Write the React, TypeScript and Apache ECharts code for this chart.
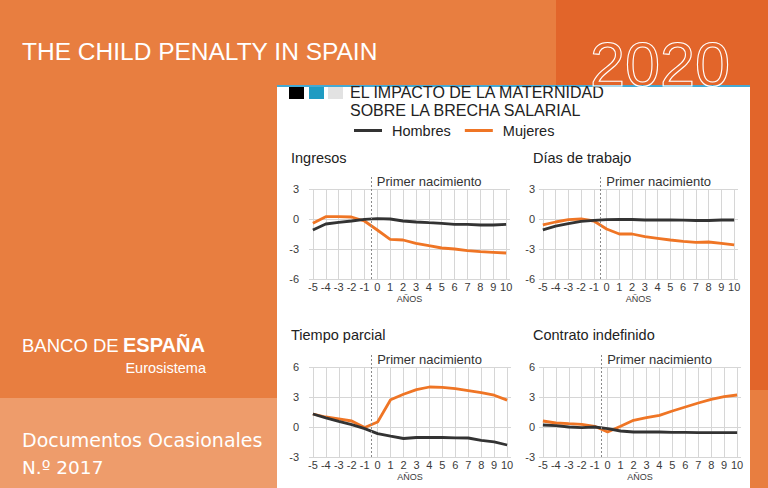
import React, { useEffect, useRef } from 'react';
import * as echarts from 'echarts';

// ---------- data ----------
const YEARS = [-5, -4, -3, -2, -1, 0, 1, 2, 3, 4, 5, 6, 7, 8, 9, 10];
const BIRTH = -0.5;

const INGRESOS_H = [-1.1, -0.5, -0.33, -0.2, -0.03, 0.03, 0, -0.2, -0.3, -0.37, -0.43, -0.53, -0.53, -0.6, -0.6, -0.53];
const INGRESOS_M = [-0.43, 0.23, 0.23, 0.2, -0.2, -1.1, -2.03, -2.1, -2.43, -2.67, -2.9, -3.0, -3.17, -3.27, -3.33, -3.4];

const DIAS_H = [-1.08, -0.71, -0.47, -0.24, -0.14, -0.07, -0.05, -0.05, -0.1, -0.1, -0.1, -0.12, -0.15, -0.15, -0.1, -0.1];
const DIAS_M = [-0.58, -0.3, -0.07, 0, -0.2, -1.0, -1.5, -1.5, -1.76, -1.93, -2.1, -2.24, -2.34, -2.3, -2.44, -2.58];

const PARCIAL_H = [1.3, 0.92, 0.56, 0.23, -0.16, -0.66, -0.92, -1.15, -1.05, -1.05, -1.05, -1.08, -1.1, -1.34, -1.48, -1.8];
const PARCIAL_M = [1.3, 1.0, 0.82, 0.6, -0.05, 0.5, 2.72, 3.28, 3.74, 4.0, 3.97, 3.84, 3.64, 3.44, 3.18, 2.69];

const CONTRATO_H = [0.2, 0.13, 0, -0.07, 0, -0.17, -0.4, -0.5, -0.5, -0.5, -0.53, -0.53, -0.57, -0.57, -0.57, -0.57];
const CONTRATO_M = [0.6, 0.4, 0.33, 0.27, 0.07, -0.5, 0.07, 0.67, 0.93, 1.17, 1.6, 2.0, 2.4, 2.77, 3.03, 3.2];

const Y_RANGE_LOW = [-6, 3];
const Y_RANGE_HIGH = [-3, 6];

const PANEL_TITLES = ['Ingresos', 'Días de trabajo', 'Tiempo parcial', 'Contrato indefinido'];
const SERIES_NAMES = ['Hombres', 'Mujeres'];
const BIRTH_LABEL = 'Primer nacimiento';
const X_NAME = 'AÑOS';

// ---------- styles / layout ----------
const FONT = '"Liberation Sans", Arial, Helvetica, sans-serif';
const ORANGE = '#EF7525';
const DARK = '#333333';
const GRID_COLOR = '#d6d6d6';
const TEXT = '#3a3a3a';

const PANELS = [
  { title: PANEL_TITLES[0], h: INGRESOS_H, m: INGRESOS_M, range: Y_RANGE_LOW, left: 309, width: 201, top: 189, tx: 291, ty: 150, ym: 10 },
  { title: PANEL_TITLES[1], h: DIAS_H, m: DIAS_M, range: Y_RANGE_LOW, left: 539, width: 199, top: 189, tx: 533, ty: 150, ym: 4 },
  { title: PANEL_TITLES[2], h: PARCIAL_H, m: PARCIAL_M, range: Y_RANGE_HIGH, left: 309, width: 202, top: 367, tx: 291, ty: 327, ym: 10 },
  { title: PANEL_TITLES[3], h: CONTRATO_H, m: CONTRATO_M, range: Y_RANGE_HIGH, left: 539, width: 202, top: 367, tx: 533, ty: 327, ym: 4 },
];

function buildOption(): any {
  const grid: any[] = [];
  const xAxis: any[] = [];
  const yAxis: any[] = [];
  const series: any[] = [];
  const title: any[] = [];

  PANELS.forEach((p, i) => {
    const ga = 2 * i;
    const gb = 2 * i + 1;
    grid.push({ left: p.left, top: p.top, width: p.width, height: 90 });
    grid.push({ left: p.left, top: p.top - 13, width: p.width, height: 103 });

    title.push({
      text: p.title,
      left: p.tx,
      top: p.ty,
      padding: 0,
      textStyle: { fontFamily: FONT, fontSize: 14.5, fontWeight: 'normal', color: '#222' },
    });

    xAxis.push({
      gridIndex: ga,
      type: 'value',
      min: -5.3,
      max: 10.3,
      axisLine: { show: false },
      axisTick: { show: false, customValues: YEARS },
      axisLabel: { customValues: YEARS, fontFamily: FONT, fontSize: 11, color: TEXT, margin: 2 },
      splitLine: { show: true, lineStyle: { color: GRID_COLOR, width: 1 } },
      name: X_NAME,
      nameLocation: 'middle',
      nameGap: 15,
      nameTextStyle: { fontFamily: FONT, fontSize: 9, color: TEXT },
    });
    xAxis.push({ gridIndex: gb, type: 'value', min: -5.3, max: 10.3, show: false });

    yAxis.push({
      gridIndex: ga,
      type: 'value',
      min: p.range[0],
      max: p.range[1],
      interval: 3,
      axisLine: { show: false },
      axisTick: { show: false },
      axisLabel: { fontFamily: FONT, fontSize: 11, color: TEXT, margin: p.ym },
      splitLine: { show: true, lineStyle: { color: GRID_COLOR, width: 1 } },
    });
    yAxis.push({ gridIndex: gb, type: 'value', min: 0, max: 1, show: false });

    series.push({
      type: 'line',
      name: 'birth' + i,
      xAxisIndex: gb,
      yAxisIndex: gb,
      data: [],
      z: 2,
      markLine: {
        silent: true,
        symbol: ['none', 'none'],
        lineStyle: { type: [2, 2], color: '#8a8a8a', width: 1 },
        label: {
          show: true,
          position: 'end',
          formatter: BIRTH_LABEL,
          align: 'left',
          verticalAlign: 'middle',
          padding: [0, 0, 0, 6],
          distance: -5,
          fontFamily: FONT,
          fontSize: 13,
          color: '#333',
        },
        data: [{ xAxis: BIRTH }],
      },
    });
    series.push({
      type: 'line',
      name: SERIES_NAMES[1],
      xAxisIndex: ga,
      yAxisIndex: ga,
      data: YEARS.map((x, j) => [x, p.m[j]]),
      symbol: 'none',
      z: 3,
      lineStyle: { width: 2.8, color: ORANGE },
      itemStyle: { color: ORANGE },
    });
    series.push({
      type: 'line',
      name: SERIES_NAMES[0],
      xAxisIndex: ga,
      yAxisIndex: ga,
      data: YEARS.map((x, j) => [x, p.h[j]]),
      symbol: 'none',
      z: 4,
      lineStyle: { width: 2.8, color: DARK },
      itemStyle: { color: DARK },
    });
  });

  const white = '#ffffff';
  const graphic: any[] = [
    { type: 'rect', z: -10, shape: { x: 556, y: 0, width: 212, height: 390 }, style: { fill: '#E2652A' } },
    { type: 'rect', z: -10, shape: { x: 0, y: 398, width: 278, height: 90 }, style: { fill: '#EE9C6B' } },
    { type: 'rect', z: -9, shape: { x: 277, y: 86, width: 473, height: 402 }, style: { fill: white } },
    { type: 'rect', z: -8, shape: { x: 277, y: 85, width: 473, height: 2 }, style: { fill: '#45A9D2' } },
    { type: 'rect', z: -8, shape: { x: 289, y: 87, width: 15, height: 12 }, style: { fill: '#000' } },
    { type: 'rect', z: -8, shape: { x: 309, y: 87, width: 15, height: 12 }, style: { fill: '#1F9BC2' } },
    { type: 'rect', z: -8, shape: { x: 328, y: 87, width: 15, height: 12 }, style: { fill: '#E2E2E2' } },
    {
      type: 'text', z: 10, x: 350, y: 92,
      style: { text: 'EL IMPACTO DE LA MATERNIDAD', fill: '#222', font: `16px ${FONT}`, verticalAlign: 'middle' },
    },
    {
      type: 'text', z: 10, x: 350, y: 110,
      style: { text: 'SOBRE LA BRECHA SALARIAL', fill: '#222', font: `16px ${FONT}`, verticalAlign: 'middle' },
    },
    {
      type: 'text', z: 10, x: 22, y: 51,
      style: { text: 'THE CHILD PENALTY IN SPAIN', fill: white, font: `24.5px ${FONT}`, verticalAlign: 'middle' },
    },
    {
      type: 'text', z: 10, x: 590, y: 95,
      style: { text: '2020', fill: 'none', stroke: white, lineWidth: 1.1, font: `63px ${FONT}`, verticalAlign: 'bottom' },
    },
    {
      type: 'text', z: 10, x: 22, y: 345,
      style: { text: 'BANCO DE', fill: white, font: `300 18.5px ${FONT}`, verticalAlign: 'middle' },
    },
    {
      type: 'text', z: 10, x: 123, y: 345,
      style: { text: 'ESPAÑA', fill: white, font: `bold 20px ${FONT}`, verticalAlign: 'middle' },
    },
    {
      type: 'text', z: 10, x: 206, y: 368,
      style: { text: 'Eurosistema', fill: white, font: `14.5px ${FONT}`, verticalAlign: 'middle', align: 'right' },
    },
    {
      type: 'text', z: 10, x: 22, y: 440,
      style: { text: 'Documentos Ocasionales', fill: white, font: `19px "DejaVu Sans", ${FONT}`, verticalAlign: 'middle' },
    },
    {
      type: 'text', z: 10, x: 22, y: 467,
      style: { text: 'N.º 2017', fill: white, font: `18.5px "DejaVu Sans", ${FONT}`, verticalAlign: 'middle' },
    },
  ];

  return {
    animation: false,
    backgroundColor: '#E87E40',
    textStyle: { fontFamily: FONT },
    title,
    legend: {
      data: SERIES_NAMES,
      left: 354,
      top: 123,
      icon: 'rect',
      itemWidth: 28,
      itemHeight: 3,
      itemGap: 14,
      padding: 0,
      textStyle: { fontFamily: FONT, fontSize: 14.5, color: '#222', padding: [0, 0, 0, 5] },
    },
    grid,
    xAxis,
    yAxis,
    series,
    graphic,
  };
}

export default function App() {
  const ref = useRef<HTMLDivElement>(null);
  useEffect(() => {
    if (!ref.current) return;
    const chart = echarts.init(ref.current, null, { renderer: 'svg' });
    chart.setOption(buildOption());
    return () => chart.dispose();
  }, []);
  return (
    <div
      ref={ref}
      style={{ position: 'absolute', left: 0, top: 0, width: 768, height: 488 }}
    />
  );
}
